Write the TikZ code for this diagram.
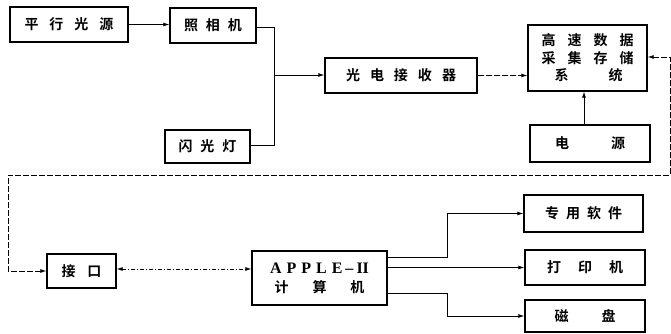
\documentclass[tikz,border=0pt]{standalone}
\usepackage{fontspec}
\newfontfamily\cjk{Noto Sans CJK SC}[BoldFont={Noto Sans CJK SC Bold}]
\setmainfont{Liberation Serif}
\usetikzlibrary{arrows.meta,calc}
\newcommand{\gp}[1]{\hspace{#1pt}}
\begin{document}
\begin{tikzpicture}[x=1pt,y=-1pt,
  box/.style={draw,line width=1.3pt,rectangle,inner sep=0pt,font=\cjk\bfseries\fontsize{14}{16}\selectfont},
  conn/.style={line width=0.8pt},
  arr/.style={conn,-{Latex[length=6pt,width=4pt]}},
  darr/.style={conn,{Latex[length=6pt,width=4pt]}-{Latex[length=6pt,width=4pt]}},
  dsh/.style={dash pattern=on 6pt off 2pt}]
\useasboundingbox (0,0) rectangle (671,334);
\node[box,minimum width=118pt,minimum height=35pt] (ps) at (69,24.5) {平\gp{11}行\gp{11}光\gp{11}源};
\node[box,minimum width=86pt,minimum height=35pt] (cam) at (213,25.5) {照\gp{8}相\gp{8}机};
\node[box,minimum width=85pt,minimum height=33pt] (fl) at (207.5,146.5) {闪\gp{8}光\gp{8}灯};
\node[box,minimum width=152pt,minimum height=35pt] (rec) at (401,75.5) {光\gp{10}电\gp{10}接\gp{10}收\gp{10}器};
\node[box,minimum width=119pt,minimum height=66pt,align=center,font=\cjk\bfseries\fontsize{14}{17.5}\selectfont] (daq) at (587.5,58) {高\gp{12}速\gp{12}数\gp{12}据\\采\gp{12}集\gp{12}存\gp{12}储\\\gp{2}系\gp{40}统\gp{2}};
\node[box,minimum width=120pt,minimum height=37pt] (pwr) at (590,143.5) {电\gp{42}源};
\node[box,minimum width=69pt,minimum height=34pt] (jk) at (81.5,271) {接\gp{12}口};
\node[box,minimum width=135pt,minimum height=54pt,align=center] (ap) at (319.5,278) {\fontspec{Liberation Serif}\bfseries\fontsize{16}{16}\selectfont A\gp{5}P\gp{5}P\gp{5}L\gp{5}E\gp{3}–\gp{3}II\\[3pt]计\gp{24}算\gp{24}机};
\node[box,minimum width=119pt,minimum height=37pt] (sw) at (583.5,213.5) {专\gp{7}用\gp{7}软\gp{7}件};
\node[box,minimum width=120pt,minimum height=35pt] (pr) at (585,267.5) {打\gp{17}印\gp{17}机};
\node[box,minimum width=120pt,minimum height=32pt] (dk) at (585,316) {磁\gp{33}盘};
\coordinate (j1) at (274,27);
\coordinate (j2) at (274,145);
\coordinate (j3) at (274,75);
\coordinate (f1) at (670,57);
\coordinate (f2) at (670,175);
\coordinate (f3) at (8,175);
\coordinate (b1) at (447,257);
\coordinate (b2) at (447,293);
\draw[arr] (ps.east) -- (ps.east -| cam.west);
\draw[conn] (cam.east |- j1) -- (j1) -- (j2) -- (fl.east |- j2);
\draw[arr] (j3) -- (j3 -| rec.west);
\draw[arr,dsh] (rec.east) -- (rec.east -| daq.west);
\draw[arr] (pwr.north -| 584,0) -- (daq.south -| 584,0);
\draw[darr,dsh] (f1 -| daq.east) -- (f1) -- (f2) -- (f3) |- (jk.west);
\draw[darr,dash pattern=on 4pt off 2pt on 1pt off 2pt] ([yshift=2pt]jk.east) -- ([yshift=2pt]jk.east -| ap.west);
\draw[arr] (b1 -| ap.east) -- (b1) |- (sw.west);
\draw[arr] (ap.east |- pr.west) -- (pr.west);
\draw[arr] (b2 -| ap.east) -- (b2) |- (dk.west);
\end{tikzpicture}
\end{document}
